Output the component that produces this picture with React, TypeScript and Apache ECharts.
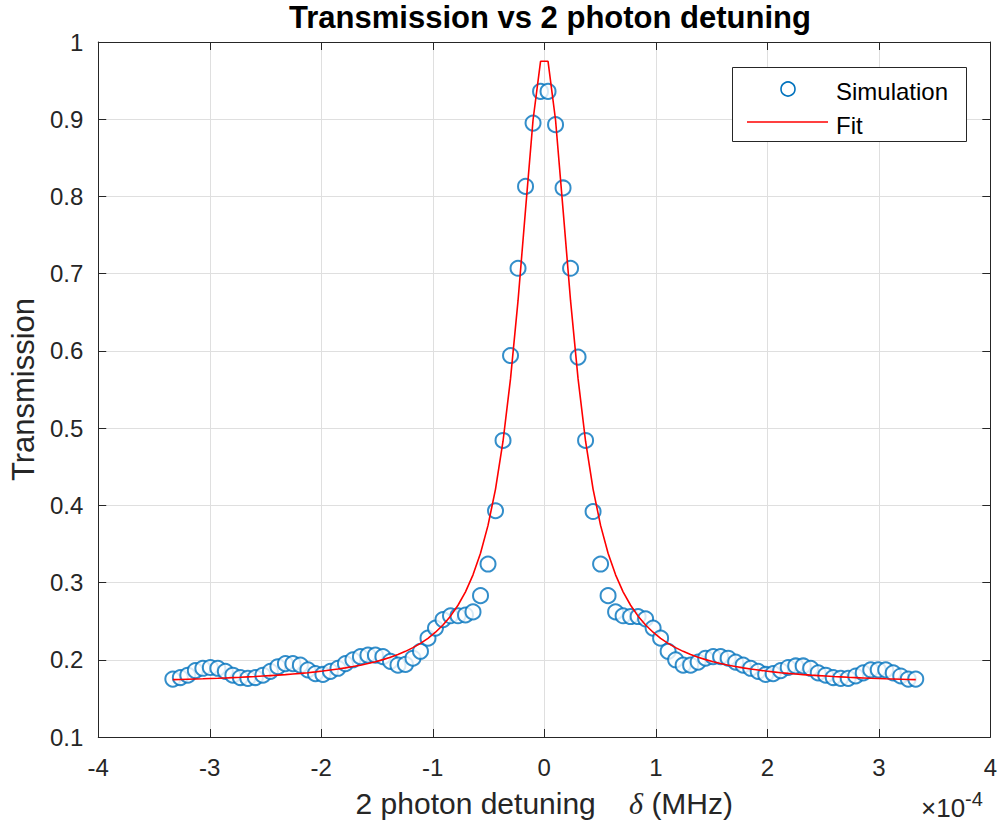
import React, { useEffect, useRef } from "react";
import * as echarts from "echarts";

// detuning in units of 1e-4 MHz
const detuning = [
  -3.3313, -3.2640, -3.1967, -3.1294, -3.0621, -2.9948, -2.9275, -2.8602, -2.7929, -2.7256,
  -2.6583, -2.5910, -2.5237, -2.4564, -2.3891, -2.3218, -2.2545, -2.1872, -2.1199, -2.0526,
  -1.9853, -1.9180, -1.8507, -1.7834, -1.7161, -1.6488, -1.5815, -1.5142, -1.4469, -1.3796,
  -1.3123, -1.2450, -1.1777, -1.1104, -1.0431, -0.9758, -0.9085, -0.8412, -0.7739, -0.7066,
  -0.6393, -0.5720, -0.5047, -0.4374, -0.3701, -0.3028, -0.2355, -0.1682, -0.1009, -0.0336,
  0.0336, 0.1009, 0.1682, 0.2355, 0.3028, 0.3701, 0.4374, 0.5047, 0.5720, 0.6393,
  0.7066, 0.7739, 0.8412, 0.9085, 0.9758, 1.0431, 1.1104, 1.1777, 1.2450, 1.3123,
  1.3796, 1.4469, 1.5142, 1.5815, 1.6488, 1.7161, 1.7834, 1.8507, 1.9180, 1.9853,
  2.0526, 2.1199, 2.1872, 2.2545, 2.3218, 2.3891, 2.4564, 2.5237, 2.5910, 2.6583,
  2.7256, 2.7929, 2.8602, 2.9275, 2.9948, 3.0621, 3.1294, 3.1967, 3.2640, 3.3313,
];

const simulation = [
  0.175, 0.177, 0.180, 0.186, 0.189, 0.190, 0.189, 0.185, 0.180, 0.177,
  0.176, 0.177, 0.180, 0.185, 0.191, 0.195, 0.195, 0.193, 0.187, 0.182,
  0.181, 0.185, 0.189, 0.195, 0.200, 0.204, 0.206, 0.206, 0.204, 0.198,
  0.193, 0.194, 0.202, 0.211, 0.228, 0.241, 0.252, 0.257, 0.257, 0.258,
  0.262, 0.283, 0.324, 0.393, 0.484, 0.594, 0.707, 0.813, 0.895, 0.936,
  0.936, 0.893, 0.811, 0.707, 0.592, 0.484, 0.392, 0.324, 0.283, 0.262,
  0.257, 0.256, 0.256, 0.253, 0.241, 0.228, 0.211, 0.200, 0.193, 0.193,
  0.197, 0.202, 0.204, 0.204, 0.202, 0.197, 0.193, 0.189, 0.185, 0.181,
  0.182, 0.186, 0.190, 0.192, 0.192, 0.189, 0.183, 0.180, 0.177, 0.176,
  0.176, 0.179, 0.183, 0.187, 0.187, 0.187, 0.183, 0.179, 0.175, 0.175,
];

const fit = [
  0.1743, 0.1745, 0.1748, 0.1751, 0.1754, 0.1758, 0.1761, 0.1765, 0.1769, 0.1773,
  0.1778, 0.1783, 0.1789, 0.1795, 0.1801, 0.1808, 0.1816, 0.1824, 0.1833, 0.1843,
  0.1854, 0.1867, 0.1880, 0.1895, 0.1912, 0.1930, 0.1951, 0.1975, 0.2002, 0.2033,
  0.2068, 0.2109, 0.2157, 0.2212, 0.2278, 0.2357, 0.2451, 0.2565, 0.2706, 0.288,
  0.310, 0.338, 0.374, 0.421, 0.483, 0.564, 0.665, 0.783, 0.899, 0.975,
  0.975, 0.899, 0.783, 0.665, 0.564, 0.483, 0.421, 0.374, 0.338, 0.310,
  0.288, 0.2706, 0.2565, 0.2451, 0.2357, 0.2278, 0.2212, 0.2157, 0.2109, 0.2068,
  0.2033, 0.2002, 0.1975, 0.1951, 0.1930, 0.1912, 0.1895, 0.1880, 0.1867, 0.1854,
  0.1843, 0.1833, 0.1824, 0.1816, 0.1808, 0.1801, 0.1795, 0.1789, 0.1783, 0.1778,
  0.1773, 0.1769, 0.1765, 0.1761, 0.1758, 0.1754, 0.1751, 0.1748, 0.1745, 0.1743,
];

const FONT = "'Liberation Sans', Arial, Helvetica, sans-serif";
const AX = "#262626";
const GRID = "#dfdfdf";

export default function App() {
  const ref = useRef<HTMLDivElement>(null);
  useEffect(() => {
    if (!ref.current) return;
    const chart = echarts.init(ref.current, null, { renderer: "svg" });
    const common = {
      axisLine: { show: true, onZero: false, lineStyle: { color: AX, width: 1 } },
      axisTick: { show: true, inside: true, length: 8, lineStyle: { color: AX } },
    };
    chart.setOption({
      animation: false,
      backgroundColor: "#ffffff",
      title: {
        text: "Transmission vs 2 photon detuning",
        left: 545,
        top: -3,
        textAlign: "center",
        textStyle: { fontFamily: FONT, fontSize: 31, fontWeight: "bold", color: "#000" },
      },
      grid: { left: 98, right: 8, top: 42, bottom: 88, containLabel: false },
      xAxis: [
        {
          type: "value",
          min: -4,
          max: 4,
          interval: 1,
          ...common,
          splitLine: { show: true, lineStyle: { color: GRID, width: 1 } },
          axisLabel: { fontFamily: FONT, fontSize: 24, color: AX, margin: 18 },
          name: "2 photon detuning    {i|δ} (MHz)",
          nameLocation: "middle",
          nameGap: 51,
          nameTextStyle: {
            fontFamily: FONT,
            fontSize: 30,
            color: AX,
            rich: { i: { fontFamily: "'Liberation Serif', 'DejaVu Serif', serif", fontStyle: "italic", fontSize: 30, color: AX } },
          },
        },
        {
          type: "value",
          position: "top",
          min: -4,
          max: 4,
          interval: 1,
          ...common,
          splitLine: { show: false },
          axisLabel: { show: false },
        },
      ],
      yAxis: [
        {
          type: "value",
          min: 0.1,
          max: 1,
          interval: 0.1,
          ...common,
          splitLine: { show: true, lineStyle: { color: GRID, width: 1 } },
          axisLabel: {
            fontFamily: FONT,
            fontSize: 24,
            color: AX,
            margin: 15,
            formatter: (v: number) => String(+v.toFixed(1)),
          },
          name: "Transmission",
          nameLocation: "middle",
          nameGap: 58,
          nameTextStyle: { fontFamily: FONT, fontSize: 31, color: AX },
        },
        {
          type: "value",
          position: "right",
          min: 0.1,
          max: 1,
          interval: 0.1,
          ...common,
          splitLine: { show: false },
          axisLabel: { show: false },
        },
      ],
      series: [
        {
          name: "Simulation",
          type: "scatter",
          data: detuning.map((x, i) => [x, simulation[i]]),
          symbol: "emptyCircle",
          symbolSize: 15,
          itemStyle: { color: "#0072BD", borderColor: "#0072BD", borderWidth: 1.6 },
          z: 3,
        },
        {
          name: "Fit",
          type: "line",
          data: detuning.map((x, i) => [x, fit[i]]),
          showSymbol: false,
          symbol: "none",
          lineStyle: { color: "#ff0000", width: 1.6 },
          z: 4,
        },
      ],
      graphic: [
        {
          type: "rect",
          shape: { x: 732.5, y: 67.5, width: 234, height: 74 },
          style: { fill: "#ffffff", stroke: AX, lineWidth: 1 },
          z: 10,
        },
        {
          type: "circle",
          shape: { cx: 788, cy: 89, r: 7 },
          style: { fill: "none", stroke: "#0072BD", lineWidth: 1.6 },
          z: 11,
        },
        {
          type: "line",
          shape: { x1: 747, y1: 122, x2: 828, y2: 122 },
          style: { stroke: "#ff0000", lineWidth: 1.6 },
          z: 11,
        },
        {
          type: "text",
          x: 836,
          y: 91,
          style: { text: "Simulation", fontFamily: FONT, fontSize: 24, fill: "#000", verticalAlign: "middle" },
          z: 11,
        },
        {
          type: "text",
          x: 836,
          y: 125,
          style: { text: "Fit", fontFamily: FONT, fontSize: 24, fill: "#000", verticalAlign: "middle" },
          z: 11,
        },
        {
          type: "text",
          x: 921,
          y: 808,
          style: {
            text: "×10{sup|-4}",
            fontFamily: FONT,
            fontSize: 26,
            fill: AX,
            verticalAlign: "middle",
            rich: { sup: { fontFamily: FONT, fontSize: 20, fill: AX, verticalAlign: "top", padding: [0, 0, 18, 0] } },
          },
          z: 11,
        },
      ],
    });
    return () => chart.dispose();
  }, []);
  return (
    <div
      ref={ref}
      style={{ position: "fixed", left: 0, top: 0, width: 1000, height: 825, background: "#fff" }}
    />
  );
}
